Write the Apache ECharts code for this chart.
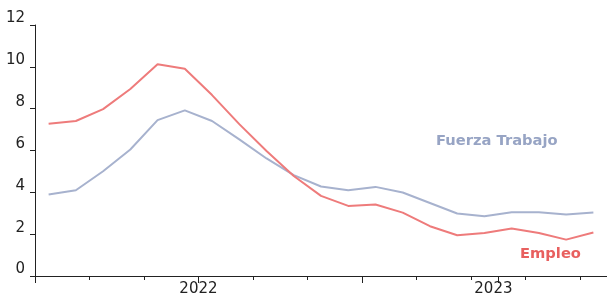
<!DOCTYPE html>
<html>
<head>
<meta charset="utf-8">
<script src="https://cdn.jsdelivr.net/npm/echarts@6/dist/echarts.min.js"></script>
<style>
  html, body { margin: 0; padding: 0; background: #fff; }
  #chart { width: 607px; height: 301px; }
</style>
</head>
<body>
<div id="chart"></div>
<script>
// periods (monthly, 21 points)
var periods = ['jul-21','ago-21','sep-21','oct-21','nov-21','dic-21','ene-22','feb-22','mar-22','abr-22','may-22',
  'jun-22','jul-22','ago-22','sep-22','oct-22','nov-22','dic-22','ene-23','feb-23','mar-23'];
var empleo = [7.28, 7.41, 7.98, 8.94, 10.12, 9.91, 8.65, 7.26, 5.98, 4.78, 3.83,
  3.35, 3.42, 3.03, 2.38, 1.95, 2.06, 2.27, 2.06, 1.74, 2.08];
var fuerzaTrabajo = [3.90, 4.10, 5.01, 6.05, 7.45, 7.92, 7.41, 6.53, 5.62, 4.82, 4.28,
  4.10, 4.26, 3.99, 3.49, 2.99, 2.86, 3.05, 3.05, 2.94, 3.03];
var yearLabels = ['2022', '2023'];
var yearLabelPos = [6, 16.83];
var majorTicks = [0, 6, 12, 17];

var font = 'DejaVu Sans';
var chart = echarts.init(document.getElementById('chart'));

chart.setOption({
  animation: false,
  grid: { left: 35, right: -4, top: 25, bottom: 25 },
  xAxis: [
    {
      type: 'category',
      data: periods,
      boundaryGap: true,
      axisLine: { lineStyle: { color: '#222', width: 1 } },
      axisTick: { show: true, length: 4, lineStyle: { color: '#222' } },
      axisLabel: { show: false }
    },
    {
      type: 'value',
      min: 0,
      max: periods.length,
      position: 'bottom',
      splitLine: { show: false },
      axisLine: { show: false },
      axisTick: { show: true, length: 7, customValues: majorTicks, lineStyle: { color: '#222' } },
      axisLabel: {
        show: true,
        customValues: yearLabelPos,
        margin: 6,
        fontFamily: font,
        fontSize: 15,
        color: '#222',
        formatter: function (v) {
          var i = yearLabelPos.indexOf(v);
          return i >= 0 ? yearLabels[i] : '';
        }
      }
    }
  ],
  yAxis: {
    type: 'value',
    min: 0,
    max: 12,
    interval: 2,
    splitLine: { show: false },
    axisLine: { show: true, lineStyle: { color: '#222', width: 1 } },
    axisTick: { show: true, length: 5, lineStyle: { color: '#222' } },
    axisLabel: {
      fontFamily: font,
      fontSize: 15,
      color: '#222',
      margin: 10,
      verticalAlign: 'bottom',
      padding: [0, 0, -1, 0]
    }
  },
  graphic: [
    {
      type: 'text', left: 436, top: 134,
      style: { text: 'Fuerza Trabajo', fill: '#97a4c4', font: 'bold 14.7px "DejaVu Sans"' }
    },
    {
      type: 'text', left: 520, top: 247,
      style: { text: 'Empleo', fill: '#e8605f', font: 'bold 14.7px "DejaVu Sans"' }
    }
  ],
  series: [
    {
      name: 'Fuerza Trabajo',
      type: 'line',
      xAxisIndex: 0,
      data: fuerzaTrabajo,
      symbol: 'none',
      lineStyle: { color: '#a7b2ce', width: 2 }
    },
    {
      name: 'Empleo',
      type: 'line',
      xAxisIndex: 0,
      data: empleo,
      symbol: 'none',
      lineStyle: { color: '#ee7b7b', width: 2 }
    }
  ]
});
</script>
</body>
</html>
